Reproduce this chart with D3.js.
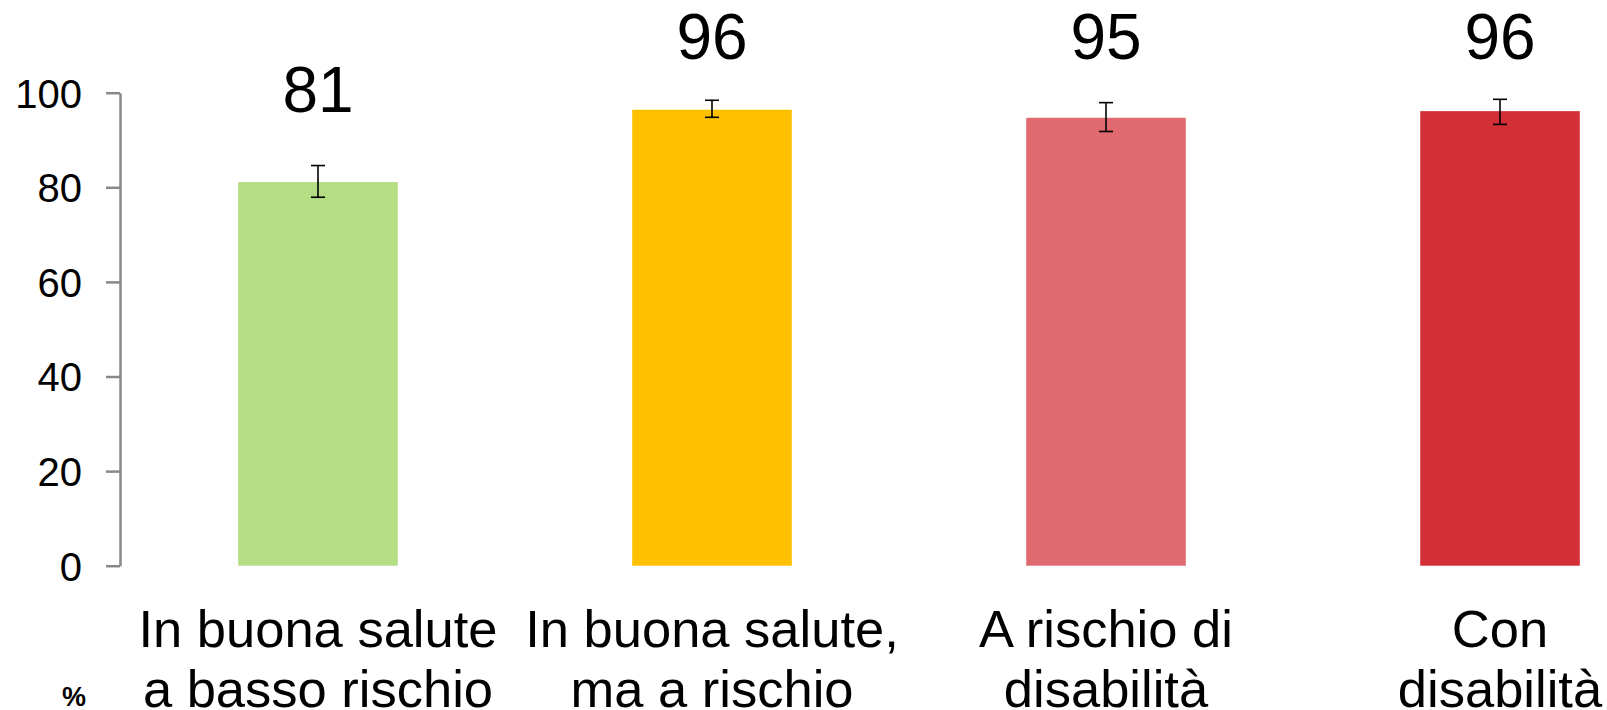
<!DOCTYPE html>
<html>
<head>
<meta charset="utf-8">
<script src="https://cdn.jsdelivr.net/npm/d3@7"></script>
<style>
  html, body { margin: 0; padding: 0; background: #fff; overflow: hidden; }
  svg { display: block; font-family: "Liberation Sans", Arial, sans-serif; }
</style>
</head>
<body>
<svg id="chart" width="1607" height="710"></svg>
<script>
const categories = [
  ["In buona salute", "a basso rischio"],
  ["In buona salute,", "ma a rischio"],
  ["A rischio di", "disabilità"],
  ["Con", "disabilità"]
];
const values = [81.1, 96.4, 94.7, 96.1];
const errLow = [77.9, 94.8, 91.8, 93.3];
const errHigh = [84.6, 98.4, 97.9, 98.6];
const colors = ["#b4dd84", "#ffc000", "#e06a70", "#d32f36"];
const yTicks = [0, 20, 40, 60, 80, 100];
const unitLabel = "%";

const svg = d3.select("#chart");
const keys = categories.map((d, i) => i);

const x = d3.scaleBand().domain(keys).range([120, 1698]).paddingInner(0.595).paddingOuter(0.3);
const y = d3.scaleLinear().domain([0, 100]).range([565.7, 92.7]);

// axis
const yAxis = d3.axisLeft(y).tickValues(yTicks).tickSize(14).tickPadding(24).tickSizeOuter(0);
const ag = svg.append("g").attr("transform", "translate(120,0)").call(yAxis);
ag.select(".domain").attr("stroke", "#888").attr("stroke-width", 2.5);
ag.selectAll(".tick line").attr("stroke", "#888").attr("stroke-width", 2.5);
ag.selectAll(".tick text").attr("fill", "#000").attr("font-size", 40)
  .attr("font-family", "Liberation Sans, Arial, sans-serif").attr("dy", "0.36em");

// bars
svg.append("g").selectAll("rect").data(keys).join("rect")
  .attr("x", i => x(i))
  .attr("width", x.bandwidth())
  .attr("y", i => y(values[i]))
  .attr("height", i => y(0) - y(values[i]))
  .attr("fill", i => colors[i]);

// error bars
const eg = svg.append("g").attr("stroke", "#000").attr("stroke-width", 1.6);
keys.forEach(i => {
  const cx = x(i) + x.bandwidth() / 2;
  eg.append("line").attr("x1", cx).attr("x2", cx).attr("y1", y(errLow[i])).attr("y2", y(errHigh[i]));
  eg.append("line").attr("x1", cx - 7).attr("x2", cx + 7).attr("y1", y(errLow[i])).attr("y2", y(errLow[i]));
  eg.append("line").attr("x1", cx - 7).attr("x2", cx + 7).attr("y1", y(errHigh[i])).attr("y2", y(errHigh[i]));
});

// value labels
svg.append("g").selectAll("text").data(keys).join("text")
  .attr("x", i => x(i) + x.bandwidth() / 2)
  .attr("y", i => Math.max(59.3, y(errHigh[i]) - 54))
  .attr("text-anchor", "middle")
  .attr("font-size", 64)
  .attr("fill", "#000")
  .text(i => Math.round(values[i]));

// category labels
const cg = svg.append("g");
keys.forEach(i => {
  const t = cg.append("text")
    .attr("x", x(i) + x.bandwidth() / 2)
    .attr("y", 646.5)
    .attr("text-anchor", "middle")
    .attr("font-size", 52.5)
    .attr("fill", "#000");
  categories[i].forEach((line, j) => {
    t.append("tspan").attr("x", x(i) + x.bandwidth() / 2).attr("dy", j === 0 ? 0 : 60).text(line);
  });
});

// unit label
svg.append("text").attr("x", 74).attr("y", 706).attr("text-anchor", "middle")
  .attr("font-size", 27).attr("font-weight", "bold").attr("fill", "#000").text(unitLabel);
</script>
</body>
</html>
